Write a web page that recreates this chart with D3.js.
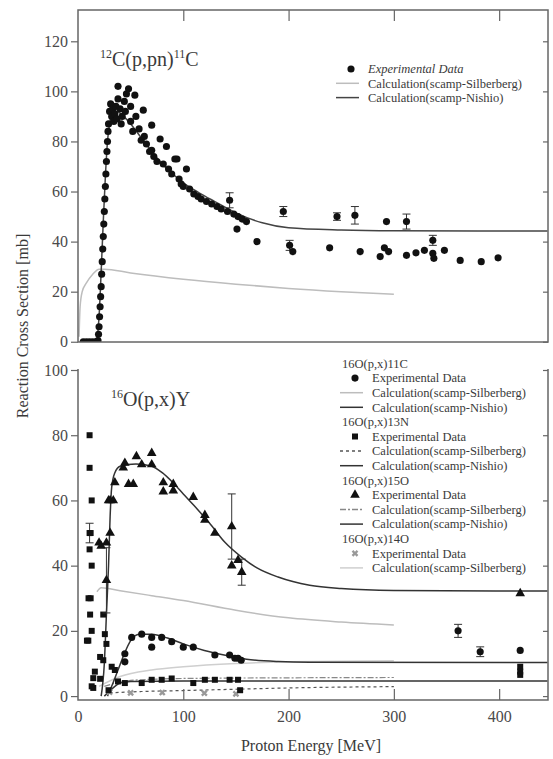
<!DOCTYPE html>
<html>
<head>
<meta charset="utf-8">
<script src="https://cdn.jsdelivr.net/npm/d3@7"></script>
<style>
    body { margin: 0; background: #fff; }
    svg { display: block; }
    svg text { font-family: "Liberation Serif", "Times New Roman", serif; }
</style>
</head>
<body>
<svg id="chart" width="553" height="759"></svg>
<script>
// ---- data (energy in MeV, cross section in mb, optional 3rd value = error) ----
var energyTicks = [0, 100, 200, 300, 400];
var topTicks = [0, 20, 40, 60, 80, 100, 120];
var bottomTicks = [0, 20, 40, 60, 80, 100];

// 12C(p,pn)11C
var c12Exp = [
    [5,0],[8,0],[11,0],[14,0],[17,0],[19,0.5],
    [19.5,3],[20,6],[20.5,10],[21,14],[21.5,18],[22,22],[22.5,27],[23,32],[23.5,37],[24,42],[24.5,47],
    [25,52],[25.5,57],[26,62],[26.5,67],[27,72],[27.5,76],[28,80],[28.5,84],[29,87],
    [30,92],[31,95],[32,90],[33,93],[34,88],[35,91],[36,94],[37,89],[38,97],[38,102],[40,93],[41,87],
    [42,90],[44,96],[45,92],[46,99],[48,101],[50,94],[50,88],[52,84],[54,98.5],[55,90],[58,85],[60,80.5],
    [62,92.5],[63,82],[65,79],[68,76],[70,86.5],[70,76.5],[72,74],[75,72],[78,81],[81,71],[84,78],[86,69],
    [89,67],[92,73],[94,73],[96,65],[98,63],[100,62],[103,69],[106,61],[110,59],[114,58],[117,57],[122,56],
    [127,55],[132,54],[136,53],[142,52],[144,56.5,3],[148,51],[151,45],[152,50],[156,49],[160,48],[170,40],
    [195,52,2],[201,38.5,2],[204,36],[239,37.5],[246,50,1.5],[263,50.5,3.5],[268,36],[287,34],[291,37.5],
    [293,48],[295,36],[312,48,3],[312,34.5],[321,35.5],[329,36.5],[337,40.5,2],[337,35.3],[338,33.3],
    [348,36.5],[363,32.5],[383,32],[399,33.5]
];
var c12Silberberg = [[1,2],[2,14],[4,20],[8,23.5],[14,27],[20,29],[25,29],[50,27.5],[100,25],[150,23],[200,21.3],[250,20],[300,19]];
var c12Nishio = [[18,0],[20,10],[22,28],[24,48],[26,66],[28,80],[30,87],[33,91],[37,92],[42,90.5],[50,87],[60,81.5],
    [70,76],[80,71],[90,67],[100,63.5],[115,59.5],[130,56],[150,51.5],[175,47.5],[200,45.5],[250,44.6],[300,44.3],[446,44.2]];

// 16O(p,x)Y
var o16C11Exp = [[44.5,10.5],[44.5,13],[51,18],[60.5,19],[70,18],[70,15],[79.5,18],[89,16.7],[100,15],[109.5,15],
    [130,12.6],[144,12.6],[149,11.6],[152,11.6],[155,11],[361,20,2],[382,13.6,1.5],[420,14]];
var o16C11Silberberg = [[18,32],[22,33.2],[40,32.3],[70,30.8],[100,29.3],[150,26.3],[200,24],[250,22.7],[300,21.8]];
var o16C11Nishio = [[28,0],[32,3],[38,8],[44,13],[50,17],[58,19],[70,19],[85,17.8],[100,16],[120,14],[140,12.5],
    [160,11.3],[190,10.6],[220,10.4],[446,10.3]];

var o16N13Exp = [[9.8,17],[11,80],[11,70],[13,60],[11,50,3],[12,50],[11,45],[13,40],[10,30],[12,30],[11.5,25],[13,20],
    [8.5,17],[14.5,5.5],[14.5,2.5],[16,7.5],[13,3],[21,12],[21,5.3],[24,25],[25.5,19],[27,16],[24,11],[32,9],[35,8],
    [38,4.5],[29,1.8],[44.5,4],[60.5,4],[70,5],[79.5,5],[89,5.4],[109.5,4],[120.5,5],[130,5],[144,5],[152,5],[154,1.8],
    [420,9],[420,7.5],[420,6.5]];
var o16N13Silberberg = [[30,1],[60,1.4],[100,1.7],[150,2.1],[200,2.5],[300,2.9]];
var o16N13Nishio = [[25,0],[30,1.5],[35,3],[40,4],[50,4.5],[100,4.6],[446,4.6]];

var o16O15Exp = [[20,47],[22,46],[27,47],[30.5,50],[27,35.5,10],[29,60],[30.5,60],[33.5,60],[35,65.5],[43,70],[44.5,71.5],
    [48,65],[52.5,65],[55.5,73.5],[60.5,71],[70,74.5],[70,71],[81,65.5],[81,62.7],[90.5,65],[90.5,63],[109.5,61],
    [120.5,55.5],[120.5,54],[130,50],[146,52,10],[146,40],[152,41.7],[155.5,38,4],[420,31.5]];
var o16O15Silberberg = [[25,3],[50,4.8],[100,5.4],[200,5.6],[300,5.7]];
var o16O15Nishio = [[22,0],[25,10],[27,25],[29,40],[30.5,55],[32,64],[35,68.5],[40,70.5],[55,71.2],[70,70.5],[80,68.5],
    [90,65.5],[100,62],[110,58.5],[125,53],[140,47],[155,42.7],[170,39.3],[190,36.5],[220,34],[250,33],[300,32.4],[446,32.2]];

var o16O14Exp = [[30,1.2],[50,1],[80,1.1],[120,0.9],[150,0.7]];
var o16O14Silberberg = [[20,3],[40,6],[70,8],[100,9],[150,10],[200,10.5],[300,10.8]];

(function() {
    var svg = d3.select('#chart')
        .attr('font-family', '"Liberation Serif", "Times New Roman", serif');

    var LEFT = 78, RIGHT = 548;
    var x = d3.scaleLinear().domain([0, 446.4]).range([LEFT, RIGHT]);
    var yTop = d3.scaleLinear().domain([-0.1, 132.5]).range([342, 10]);
    var yBot = d3.scaleLinear().domain([-1.2, 100]).range([700, 370]);

    var FRAME = '#666', LIGHT = '#bdbdbd', DARK = '#333', TEXT = '#3a3a3a';

    var defs = svg.append('defs');
    defs.append('clipPath').attr('id', 'clip-top')
        .append('rect').attr('x', LEFT).attr('y', 10).attr('width', RIGHT - LEFT).attr('height', 332);
    defs.append('clipPath').attr('id', 'clip-bot')
        .append('rect').attr('x', LEFT).attr('y', 355).attr('width', RIGHT - LEFT).attr('height', 345);

    var symbols = {
        circle: d3.symbol().type(d3.symbolCircle).size(40),
        square: d3.symbol().type(d3.symbolSquare).size(36),
        triangle: d3.symbol().type(d3.symbolTriangle).size(40),
        cross: d3.symbol().type(d3.symbolCross).size(28)
    };

    var drawLine = function(g, y, data, stroke, dash, width) {
        var line = d3.line()
            .x(function(d) { return x(d[0]); })
            .y(function(d) { return y(d[1]); })
            .curve(d3.curveMonotoneX);
        g.append('path')
            .datum(data)
            .attr('d', line)
            .attr('fill', 'none')
            .attr('stroke', stroke)
            .attr('stroke-width', width || 1.5)
            .attr('stroke-dasharray', dash || null);
    };

    var drawPoints = function(g, y, data, sym, fill) {
        var errs = data.filter(function(d) { return d[2]; });
        var eb = g.append('g').attr('stroke', '#333').attr('stroke-width', 1);
        errs.forEach(function(d) {
            var x0 = x(d[0]), y1 = y(d[1] - d[2]), y2 = y(d[1] + d[2]);
            eb.append('line').attr('x1', x0).attr('x2', x0).attr('y1', y1).attr('y2', y2);
            eb.append('line').attr('x1', x0 - 4).attr('x2', x0 + 4).attr('y1', y1).attr('y2', y1);
            eb.append('line').attr('x1', x0 - 4).attr('x2', x0 + 4).attr('y1', y2).attr('y2', y2);
        });
        g.selectAll(null)
            .data(data)
            .enter()
            .append('path')
                .attr('d', symbols[sym])
                .attr('transform', function(d) {
                    var r = sym === 'cross' ? ' rotate(45)' : '';
                    return 'translate(' + x(d[0]) + ',' + y(d[1]) + ')' + r;
                })
                .attr('fill', fill || '#111');
    };

    // ---------- top panel ----------
    var top = svg.append('g').attr('clip-path', 'url(#clip-top)');
    drawLine(top, yTop, c12Silberberg, LIGHT);
    drawLine(top, yTop, c12Nishio, '#444');
    drawPoints(top, yTop, c12Exp, 'circle');

    svg.append('rect')
        .attr('x', LEFT).attr('y', 10).attr('width', RIGHT - LEFT).attr('height', 332)
        .attr('fill', 'none').attr('stroke', FRAME).attr('stroke-width', 1.5);

    var styleAxis = function(g) {
        g.attr('font-family', null).attr('font-size', null);
        g.select('.domain').remove();
        g.selectAll('line').attr('stroke', FRAME).attr('stroke-width', 1.2);
        g.selectAll('text').attr('fill', '#4a4a4a').attr('font-size', 16);
    };

    svg.append('g').attr('transform', 'translate(' + LEFT + ',0)')
        .call(d3.axisLeft(yTop).tickValues(topTicks).tickSize(7).tickPadding(3))
        .call(styleAxis);
    svg.append('g').attr('transform', 'translate(' + RIGHT + ',0)')
        .call(d3.axisLeft(yTop).tickValues(topTicks).tickSize(5).tickFormat(''))
        .call(styleAxis);
    svg.append('g').attr('transform', 'translate(0,10)')
        .call(d3.axisBottom(x).tickValues(energyTicks.slice(1)).tickSize(11).tickFormat(''))
        .call(styleAxis);

    // ---------- bottom panel ----------
    var bot = svg.append('g').attr('clip-path', 'url(#clip-bot)');
    drawLine(bot, yBot, o16C11Silberberg, LIGHT);
    drawLine(bot, yBot, o16O14Silberberg, '#cfcfcf');
    drawLine(bot, yBot, o16O15Silberberg, '#888', '6,2,2,2', 1.2);
    drawLine(bot, yBot, o16N13Silberberg, '#555', '3,3', 1.2);
    drawLine(bot, yBot, o16O15Nishio, DARK);
    drawLine(bot, yBot, o16C11Nishio, DARK);
    drawLine(bot, yBot, o16N13Nishio, DARK);
    drawPoints(bot, yBot, o16O14Exp, 'cross', '#999');
    drawPoints(bot, yBot, o16N13Exp, 'square');
    drawPoints(bot, yBot, o16C11Exp, 'circle');
    drawPoints(bot, yBot, o16O15Exp, 'triangle');

    var frame = svg.append('g').attr('stroke', FRAME).attr('stroke-width', 1.5).attr('fill', 'none');
    frame.append('path').attr('d', 'M' + LEFT + ',369V700H' + RIGHT + 'V369');

    svg.append('g').attr('transform', 'translate(' + LEFT + ',0)')
        .call(d3.axisLeft(yBot).tickValues(bottomTicks).tickSize(7).tickPadding(3))
        .call(styleAxis);
    svg.append('g').attr('transform', 'translate(' + RIGHT + ',0)')
        .call(d3.axisLeft(yBot).tickValues(bottomTicks).tickSize(5).tickFormat(''))
        .call(styleAxis);
    svg.append('g').attr('transform', 'translate(0,700)')
        .call(d3.axisTop(x).tickValues(energyTicks.slice(1)).tickSize(11).tickFormat(''))
        .call(styleAxis);
    svg.append('g').attr('transform', 'translate(0,700)')
        .call(d3.axisBottom(x).tickValues(energyTicks).tickSize(0).tickPadding(11))
        .call(styleAxis);

    // ---------- titles & axis labels ----------
    var sup = function(t, parts) {
        parts.forEach(function(p) {
            if (p[1]) t.append('tspan').attr('font-size', 12).attr('dy', -8).text(p[0]);
            else t.append('tspan').attr('font-size', 20).attr('dy', p[2] || 0).text(p[0]);
        });
    };
    var t1 = svg.append('text').attr('x', 100).attr('y', 66).attr('fill', TEXT);
    sup(t1, [['12', true], ['C(p,pn)', false, 8], ['11', true], ['C', false, 8]]);
    var t2 = svg.append('text').attr('x', 111).attr('y', 406).attr('fill', TEXT);
    sup(t2, [['16', true], ['O(p,x)Y', false, 8]]);

    svg.append('text')
        .attr('transform', 'translate(22,326) rotate(-90)')
        .attr('text-anchor', 'middle').attr('dy', '0.35em')
        .attr('font-size', 16).attr('fill', TEXT)
        .text('Reaction Cross Section [mb]');
    svg.append('text')
        .attr('x', 311).attr('y', 745).attr('dy', '0.35em')
        .attr('text-anchor', 'middle')
        .attr('font-size', 16).attr('fill', TEXT)
        .text('Proton Energy [MeV]');

    // ---------- legends ----------
    var legendEntry = function(g, xm, y, item) {
        if (item.kind === 'head') {
            g.append('text').attr('x', xm - 13).attr('y', y).attr('dy', '0.35em').text(item.label);
            return;
        }
        if (item.kind === 'mark') {
            g.append('path').attr('d', symbols[item.sym])
                .attr('transform', 'translate(' + xm + ',' + y + ')' + (item.sym === 'cross' ? ' rotate(45)' : ''))
                .attr('fill', item.fill || '#111');
        } else {
            g.append('line').attr('x1', xm - 15).attr('x2', xm + 8).attr('y1', y).attr('y2', y)
                .attr('stroke', item.stroke).attr('stroke-width', 1.5)
                .attr('stroke-dasharray', item.dash || null);
        }
        g.append('text').attr('x', xm + 17).attr('y', y).attr('dy', '0.35em')
            .attr('font-style', item.italic ? 'italic' : null)
            .text(item.label);
    };

    var legTop = svg.append('g').attr('font-size', 12.5).attr('fill', TEXT);
    [
        { kind: 'mark', sym: 'circle', label: 'Experimental Data', italic: true },
        { kind: 'line', stroke: LIGHT, label: 'Calculation(scamp-Silberberg)' },
        { kind: 'line', stroke: '#444', label: 'Calculation(scamp-Nishio)' }
    ].forEach(function(item, i) {
        legendEntry(legTop, 351, 69 + i * 14.3, item);
    });

    var legBot = svg.append('g').attr('font-size', 12.5).attr('fill', TEXT);
    [
        { kind: 'head', label: '16O(p,x)11C' },
        { kind: 'mark', sym: 'circle', label: 'Experimental Data' },
        { kind: 'line', stroke: LIGHT, label: 'Calculation(scamp-Silberberg)' },
        { kind: 'line', stroke: DARK, label: 'Calculation(scamp-Nishio)' },
        { kind: 'head', label: '16O(p,x)13N' },
        { kind: 'mark', sym: 'square', label: 'Experimental Data' },
        { kind: 'line', stroke: '#555', dash: '3,3', label: 'Calculation(scamp-Silberberg)' },
        { kind: 'line', stroke: DARK, label: 'Calculation(scamp-Nishio)' },
        { kind: 'head', label: '16O(p,x)15O' },
        { kind: 'mark', sym: 'triangle', label: 'Experimental Data' },
        { kind: 'line', stroke: '#888', dash: '6,2,2,2', label: 'Calculation(scamp-Silberberg)' },
        { kind: 'line', stroke: DARK, label: 'Calculation(scamp-Nishio)' },
        { kind: 'head', label: '16O(p,x)14O' },
        { kind: 'mark', sym: 'cross', fill: '#999', label: 'Experimental Data' },
        { kind: 'line', stroke: '#cfcfcf', label: 'Calculation(scamp-Silberberg)' }
    ].forEach(function(item, i) {
        legendEntry(legBot, 355, 363.5 + i * 14.6, item);
    });
}());
</script>
</body>
</html>
